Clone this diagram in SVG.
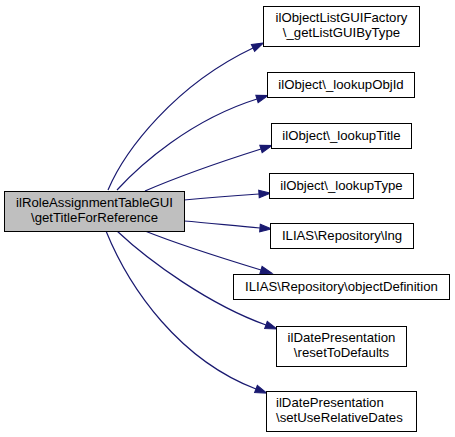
<svg xmlns="http://www.w3.org/2000/svg" width="455" height="437" viewBox="0 0 455 437">
<style>
.n rect{fill:#ffffff;stroke:#000000;stroke-width:1}
.main rect{fill:#bfbfbf}
text{font-family:"Liberation Sans",Arial,sans-serif;font-size:13.2px;fill:#000000}
.c{text-anchor:middle}
.e path{fill:none;stroke:#191970;stroke-width:1.2;marker-end:url(#arr)}
</style>
<defs>
<marker id="arr" markerUnits="userSpaceOnUse" markerWidth="12" markerHeight="10" refX="0" refY="3.5" orient="auto" viewBox="0 0 11 7" overflow="visible">
<path d="M0,0 L10.5,3.5 L0,7 z" fill="#191970" stroke="#191970" stroke-width="1"/>
</marker>
</defs>
<rect width="455" height="437" fill="#ffffff"/>
<g id="connectors" class="e">
<path d="M108,190 C125,150 175,85 253,48"/>
<path d="M117,190 C140,165 190,120 257,99"/>
<path d="M145,191 C175,178 220,162 261,149"/>
<path d="M184,200 C205,198 230,196 259,194"/>
<path d="M184,221 C210,223 235,226 260,228"/>
<path d="M145,231 C175,243 215,256 261,270"/>
<path d="M117,231 C150,262 210,305 266,325"/>
<path d="M106,231 C130,290 180,360 256,389"/>
</g>
<g id="node_main" class="n main">
<rect x="4.5" y="191.5" width="180" height="40"/>
<text class="c" x="94.5" y="207">ilRoleAssignmentTableGUI</text>
<text class="c" x="94.5" y="222">\getTitleForReference</text>
</g>
<g id="node_1" class="n">
<rect x="263.5" y="6.5" width="156" height="40"/>
<text class="c" x="341.5" y="22">ilObjectListGUIFactory</text>
<text class="c" x="341.5" y="37">\_getListGUIByType</text>
</g>
<g id="node_2" class="n">
<rect x="267.5" y="72.5" width="147" height="25"/>
<text class="c" x="341" y="89">ilObject\_lookupObjId</text>
</g>
<g id="node_3" class="n">
<rect x="271.5" y="123.5" width="140" height="25"/>
<text class="c" x="341.5" y="140">ilObject\_lookupTitle</text>
</g>
<g id="node_4" class="n">
<rect x="269.5" y="173.5" width="144" height="25"/>
<text class="c" x="341.5" y="190">ilObject\_lookupType</text>
</g>
<g id="node_5" class="n">
<rect x="270.5" y="223.5" width="143" height="25"/>
<text class="c" x="342" y="240">ILIAS\Repository\lng</text>
</g>
<g id="node_6" class="n">
<rect x="233.5" y="274.5" width="216" height="25"/>
<text class="c" x="341.5" y="291">ILIAS\Repository\objectDefinition</text>
</g>
<g id="node_7" class="n">
<rect x="276.5" y="326.5" width="130" height="40"/>
<text class="c" x="341.5" y="342">ilDatePresentation</text>
<text class="c" x="341.5" y="357">\resetToDefaults</text>
</g>
<g id="node_8" class="n">
<rect x="266.5" y="391.5" width="150" height="40"/>
<text x="276" y="407">ilDatePresentation</text>
<text x="276" y="422">\setUseRelativeDates</text>
</g>
</svg>
